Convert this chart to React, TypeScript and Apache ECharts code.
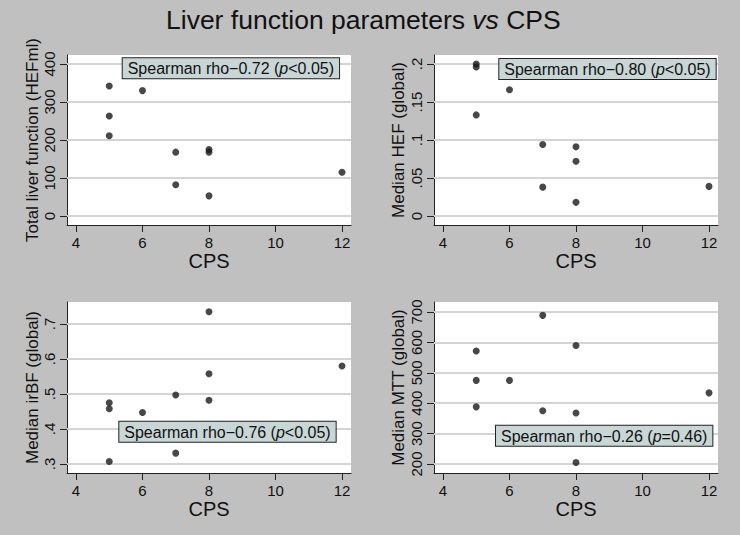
import React, { useEffect, useRef } from "react";
import * as echarts from "echarts";

const FONT = 'Arial, "Liberation Sans", Helvetica, sans-serif';

const CPS = [5, 5, 5, 6, 7, 7, 8, 8, 8, 12];
const totalLiverFunction = [342, 263, 211, 330, 168, 82, 175, 168, 53, 115];
const medianHEF = [0.2, 0.196, 0.133, 0.166, 0.094, 0.038, 0.091, 0.072, 0.018, 0.039];
const medianIrBF = [0.475, 0.458, 0.307, 0.447, 0.497, 0.331, 0.735, 0.558, 0.482, 0.58];
const medianMTT = [572, 475, 388, 475, 689, 375, 590, 368, 205, 434];

const xTicks = [4, 6, 8, 10, 12];
const yTicksTLF = [0, 100, 200, 300, 400];
const yTicksHEF = [0, 0.05, 0.1, 0.15, 0.2];
const yTicksIrBF = [0.3, 0.4, 0.5, 0.6, 0.7];
const yTicksMTT = [200, 300, 400, 500, 600, 700];

const yNames = ["Total liver function (HEFml)", "Median HEF (global)", "Median irBF (global)", "Median MTT (global)"];
const rhoTexts = ["−0.72", "−0.80", "−0.76", "−0.26"];
const pTexts = ["<0.05", "<0.05", "<0.05", "=0.46"];

const panels = [
  { values: totalLiverFunction, ticks: yTicksTLF, min: -23.7, max: 423.7, grid: { left: 67, top: 55, width: 284, height: 170 }, nameGap: 24, box: [122.7, 58.3] },
  { values: medianHEF, ticks: yTicksHEF, min: -0.0118, max: 0.2118, grid: { left: 434, top: 55, width: 284, height: 170 }, nameGap: 27, box: [499.3, 59] },
  { values: medianIrBF, ticks: yTicksIrBF, min: 0.2743, max: 0.7629, grid: { left: 67, top: 302, width: 284, height: 171 }, nameGap: 24, box: [119.3, 421.7] },
  { values: medianMTT, ticks: yTicksMTT, min: 170.4, max: 732.9, grid: { left: 434, top: 302, width: 284, height: 171 }, nameGap: 27, box: [496, 425.7] },
];

const fmt = (v: number) => {
  const s = String(Math.round(v * 1000) / 1000);
  return s.replace(/^0\./, ".");
};

export default function App() {
  const ref = useRef<HTMLDivElement>(null);
  useEffect(() => {
    if (!ref.current) return;
    const chart = echarts.init(ref.current, null, { renderer: "svg" });
    const axisColor = "#222";
    const option: any = {
      animation: false,
      backgroundColor: "#c0c0c0",
      title: {
        text: "{a|Liver function parameters }{b|vs}{a| CPS}",
        left: 166,
        top: 6,
        padding: 0,
        textStyle: {
          fontWeight: "normal",
          rich: {
            a: { fontSize: 26.5, color: "#111", fontFamily: FONT, fontWeight: "normal" },
            b: { fontSize: 26.5, color: "#111", fontFamily: FONT, fontStyle: "italic", fontWeight: "normal" },
          },
        },
      },
      grid: panels.map((p) => ({ ...p.grid, show: true, backgroundColor: "#ffffff", borderWidth: 0, containLabel: false })),
      xAxis: panels.map((p, i) => ({
        type: "value",
        gridIndex: i,
        min: 3.73,
        max: 12.27,
        axisLine: { show: true, onZero: false, lineStyle: { color: axisColor, width: 1 } },
        axisTick: { show: true, customValues: xTicks, length: 7, lineStyle: { color: axisColor } },
        axisLabel: { customValues: xTicks, fontSize: 15, color: "#111", fontFamily: FONT, margin: 10 },
        splitLine: { show: false },
        name: "CPS",
        nameLocation: "middle",
        nameGap: 22,
        nameTextStyle: { fontSize: 20, color: "#111", fontFamily: FONT },
      })),
      yAxis: panels.map((p, i) => ({
        type: "value",
        gridIndex: i,
        min: p.min,
        max: p.max,
        axisLine: { show: true, onZero: false, lineStyle: { color: axisColor, width: 1 } },
        axisTick: { show: true, customValues: p.ticks, length: 7, lineStyle: { color: axisColor } },
        axisLabel: { customValues: p.ticks, fontSize: 15, color: "#111", fontFamily: FONT, margin: 10, rotate: 90, formatter: fmt },
        splitLine: { show: false },
        name: yNames[i],
        nameLocation: "middle",
        nameRotate: 90,
        nameGap: p.nameGap,
        nameTextStyle: { fontSize: 17, color: "#111", fontFamily: FONT },
      })),
      series: panels.map((p, i) => ({
        type: "scatter",
        xAxisIndex: i,
        yAxisIndex: i,
        z: 8,
        symbolSize: 7,
        itemStyle: { color: "#1a1a1a" },
        data: CPS.map((c, j) => [c, p.values[j]]),
        markLine: {
          silent: true,
          z: 5,
          symbol: ["none", "none"],
          label: { show: false },
          emphasis: { disabled: true },
          lineStyle: { color: "#d4d4d4", width: 2, type: "solid" },
          data: p.ticks.map((v) => ({ yAxis: v })),
        },
      })),
      graphic: panels.map((p, i) => ({
        type: "text",
        x: p.box[0],
        y: p.box[1],
        z: 10,
        style: {
          text: `{n|Spearman rho${rhoTexts[i]} (}{i|p}{n|${pTexts[i]})}`,
          align: "left",
          verticalAlign: "top",
          backgroundColor: "#c9d6d6",
          borderColor: "#222",
          borderWidth: 1,
          padding: [2, 5, 1, 5],
          rich: {
            n: { fontSize: 16, fontFamily: FONT, fill: "#111", lineHeight: 17 },
            i: { fontSize: 16, fontFamily: FONT, fill: "#111", fontStyle: "italic", lineHeight: 17 },
          },
        },
      })),
    };
    chart.setOption(option);
    return () => chart.dispose();
  }, []);
  return <div ref={ref} style={{ position: "absolute", left: 0, top: 0, width: 740, height: 535 }} />;
}
